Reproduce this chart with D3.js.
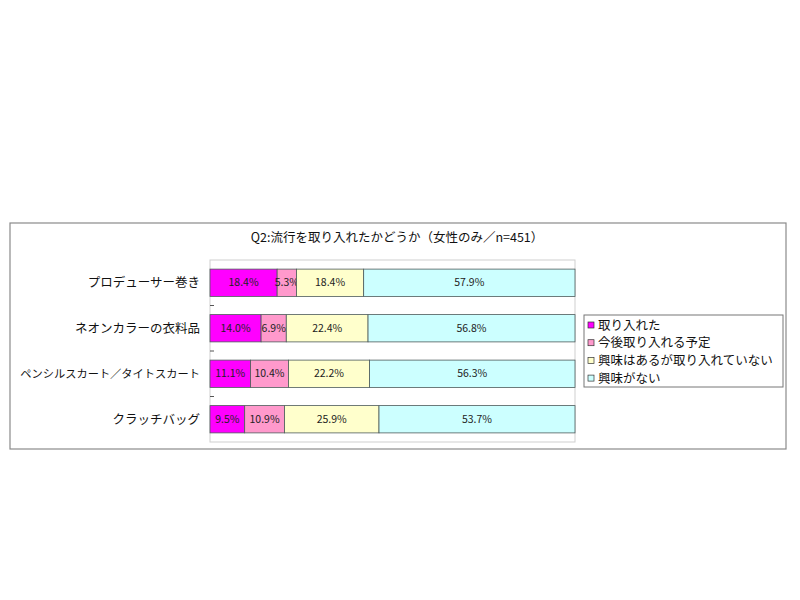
<!DOCTYPE html>
<html>
<head>
<meta charset="utf-8">
<script src="https://cdn.jsdelivr.net/npm/d3@7"></script>
<style>
  body { margin: 0; background: #fff; }
  text { font-family: "Noto Sans CJK JP", "Noto Sans", sans-serif; }
</style>
</head>
<body>
<div class="viz"></div>
<script>
var title = 'Q2:流行を取り入れたかどうか（女性のみ／n=451）';
var categories = ['プロデューサー巻き', 'ネオンカラーの衣料品', 'ペンシルスカート／タイトスカート', 'クラッチバッグ'];
var seriesNames = ['取り入れた', '今後取り入れる予定', '興味はあるが取り入れていない', '興味がない'];
var adopted = [18.4, 14.0, 11.1, 9.5];
var planned = [5.3, 6.9, 10.4, 10.9];
var interested = [18.4, 22.4, 22.2, 25.9];
var notInterested = [57.9, 56.8, 56.3, 53.7];
var colors = ['#ff00ff', '#ff99cc', '#ffffcc', '#ccffff'];

var width = 800, height = 600;
var svg = d3.select('.viz').append('svg')
  .attr('width', width)
  .attr('height', height);

svg.append('rect').attr('width', width).attr('height', height).attr('fill', '#fff');

// outer chart frame
svg.append('rect')
  .attr('x', 10).attr('y', 223)
  .attr('width', 776).attr('height', 226)
  .attr('fill', '#fff')
  .attr('stroke', '#8a8a8a')
  .attr('stroke-width', 1.2);

svg.append('text')
  .attr('x', 397).attr('y', 242)
  .attr('text-anchor', 'middle')
  .attr('font-size', 12.5)
  .attr('fill', '#111')
  .text(title);

var x = d3.scaleLinear().domain([0, 100]).range([210, 575]);
var y = d3.scaleBand().domain(categories).range([260, 442])
  .paddingInner(0.4).paddingOuter(0.2);

// plot area
svg.append('rect')
  .attr('x', x(0)).attr('y', 260)
  .attr('width', x(100) - x(0)).attr('height', 182)
  .attr('fill', 'none')
  .attr('stroke', '#cfcfcf');

var table = categories.map(function (c, i) {
  return { cat: c, s0: adopted[i], s1: planned[i], s2: interested[i], s3: notInterested[i] };
});
var stack = d3.stack().keys(['s0', 's1', 's2', 's3']);
var layers = stack(table);

var groups = svg.selectAll('g.layer')
  .data(layers)
  .enter().append('g')
  .attr('class', 'layer')
  .attr('fill', function (d, i) { return colors[i]; });

groups.selectAll('rect')
  .data(function (d) { return d; })
  .enter().append('rect')
  .attr('x', function (d) { return x(d[0]); })
  .attr('y', function (d) { return y(d.data.cat); })
  .attr('width', function (d) { return Math.min(x(d[1]), x(100)) - x(d[0]); })
  .attr('height', y.bandwidth())
  .attr('stroke', '#4d5a5a')
  .attr('stroke-width', 0.8);

groups.selectAll('text')
  .data(function (d) { return d; })
  .enter().append('text')
  .attr('x', function (d) { return (x(d[0]) + Math.min(x(d[1]), x(100))) / 2; })
  .attr('y', function (d) { return y(d.data.cat) + y.bandwidth() / 2 + 3.5; })
  .attr('text-anchor', 'middle')
  .attr('font-size', 10.5)
  .attr('fill', '#222')
  .text(function (d) { return (d[1] - d[0]).toFixed(1) + '%'; });

// category labels
svg.selectAll('text.cat')
  .data(categories)
  .enter().append('text')
  .attr('class', 'cat')
  .attr('x', 200)
  .attr('y', function (d) { return y(d) + y.bandwidth() / 2 + 4.5; })
  .attr('text-anchor', 'end')
  .attr('font-size', 12.5)
  .attr('fill', '#111')
  .text(function (d) { return d; })
  .each(function () {
    // long labels get a smaller font so they stay inside the frame
    var len = this.getComputedTextLength();
    if (len > 180) d3.select(this).attr('font-size', 12.5 * 180 / len);
  });

// small ticks between categories
var step = y.step();
svg.selectAll('line.tick')
  .data(categories.slice(0, -1))
  .enter().append('line')
  .attr('x1', x(0)).attr('x2', x(0) + 4)
  .attr('y1', function (d) { return y(d) + y.bandwidth() + (step - y.bandwidth()) / 2; })
  .attr('y2', function (d) { return y(d) + y.bandwidth() + (step - y.bandwidth()) / 2; })
  .attr('stroke', '#555');

// legend
var legend = svg.append('g').attr('transform', 'translate(584,315)');
legend.append('rect')
  .attr('width', 199).attr('height', 72)
  .attr('fill', '#fff')
  .attr('stroke', '#777');
var items = legend.selectAll('g.item')
  .data(seriesNames)
  .enter().append('g')
  .attr('class', 'item')
  .attr('transform', function (d, i) { return 'translate(4,' + (10 + i * 17.7) + ')'; });
items.append('rect')
  .attr('x', 0).attr('y', -3)
  .attr('width', 6).attr('height', 6)
  .attr('fill', function (d, i) { return colors[i]; })
  .attr('stroke', '#333')
  .attr('stroke-width', 0.7);
items.append('text')
  .attr('x', 10).attr('y', 4.5)
  .attr('font-size', 12.5)
  .attr('fill', '#111')
  .text(function (d) { return d; });
</script>
</body>
</html>
